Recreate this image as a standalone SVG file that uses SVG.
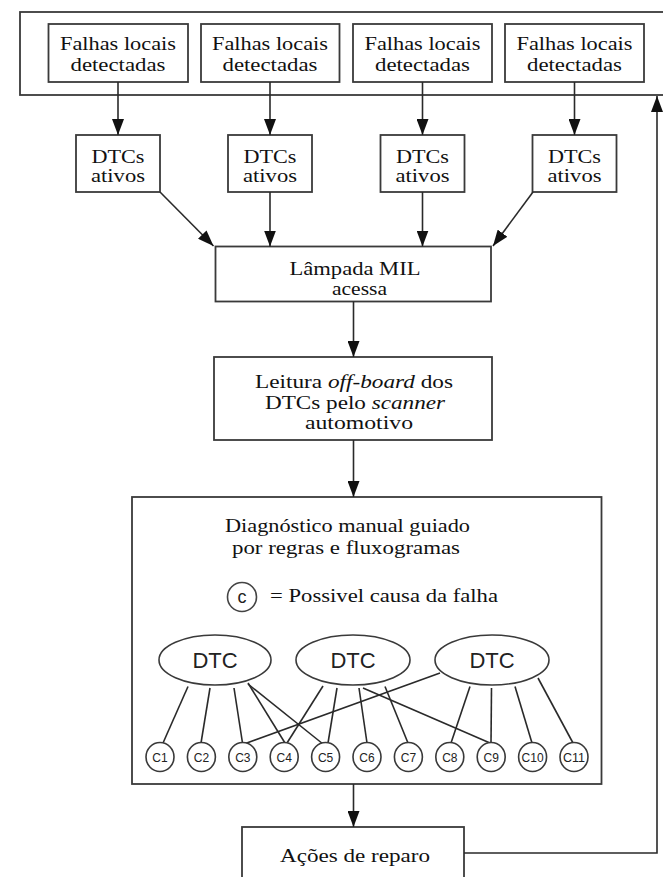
<svg xmlns="http://www.w3.org/2000/svg" width="663" height="877" viewBox="0 0 663 877">
<style>
.box{fill:#fff;stroke:#3a3a3a;stroke-width:1.8}
.t{font-family:"Liberation Serif","Times New Roman",serif;font-size:19px;fill:#111;text-anchor:middle}
.s{font-family:"Liberation Sans",Arial,sans-serif;fill:#222;text-anchor:middle}
.ln{stroke:#2a2a2a;stroke-width:1.6;fill:none}
.ar{stroke:#2a2a2a;stroke-width:1.6;fill:none;marker-end:url(#ah)}
.el{fill:#fff;stroke:#3a3a3a;stroke-width:1.6}
</style>
<defs>
<marker id="ah" markerUnits="userSpaceOnUse" markerWidth="17" markerHeight="12" refX="16" refY="6" orient="auto">
<path d="M0,0 L16,6 L0,12 z" fill="#111"/>
</marker>
</defs>
<rect width="663" height="877" fill="#fff"/>

<g id="top-container">
<rect class="box" x="20" y="12" width="650" height="83"/>
</g>

<g id="falhas1"><rect class="box" x="48.5" y="24" width="139.5" height="58"/>
<text class="t" x="118" y="50" textLength="116" lengthAdjust="spacingAndGlyphs">Falhas locais</text>
<text class="t" x="118" y="71" textLength="95" lengthAdjust="spacingAndGlyphs">detectadas</text></g>
<g id="falhas2"><rect class="box" x="201" y="24" width="138.5" height="58"/>
<text class="t" x="270" y="50" textLength="116" lengthAdjust="spacingAndGlyphs">Falhas locais</text>
<text class="t" x="270" y="71" textLength="95" lengthAdjust="spacingAndGlyphs">detectadas</text></g>
<g id="falhas3"><rect class="box" x="353" y="24" width="139" height="58"/>
<text class="t" x="422.5" y="50" textLength="116" lengthAdjust="spacingAndGlyphs">Falhas locais</text>
<text class="t" x="422.5" y="71" textLength="95" lengthAdjust="spacingAndGlyphs">detectadas</text></g>
<g id="falhas4"><rect class="box" x="505" y="24" width="139" height="58"/>
<text class="t" x="574.5" y="50" textLength="116" lengthAdjust="spacingAndGlyphs">Falhas locais</text>
<text class="t" x="574.5" y="71" textLength="95" lengthAdjust="spacingAndGlyphs">detectadas</text></g>

<g id="dtc1"><rect class="box" x="76" y="135" width="84" height="57"/>
<text class="t" x="118" y="163" textLength="53" lengthAdjust="spacingAndGlyphs">DTCs</text>
<text class="t" x="118" y="182" textLength="54" lengthAdjust="spacingAndGlyphs">ativos</text></g>
<g id="dtc2"><rect class="box" x="228" y="135" width="84" height="57"/>
<text class="t" x="270" y="163" textLength="53" lengthAdjust="spacingAndGlyphs">DTCs</text>
<text class="t" x="270" y="182" textLength="54" lengthAdjust="spacingAndGlyphs">ativos</text></g>
<g id="dtc3"><rect class="box" x="380.5" y="135" width="84" height="57"/>
<text class="t" x="422.5" y="163" textLength="53" lengthAdjust="spacingAndGlyphs">DTCs</text>
<text class="t" x="422.5" y="182" textLength="54" lengthAdjust="spacingAndGlyphs">ativos</text></g>
<g id="dtc4"><rect class="box" x="532.5" y="135" width="84" height="57"/>
<text class="t" x="574.5" y="163" textLength="53" lengthAdjust="spacingAndGlyphs">DTCs</text>
<text class="t" x="574.5" y="182" textLength="54" lengthAdjust="spacingAndGlyphs">ativos</text></g>

<g id="mil"><rect class="box" x="215.5" y="246.5" width="275.5" height="55"/>
<text class="t" x="355" y="275" font-size="18" style="font-size:18px" textLength="131" lengthAdjust="spacingAndGlyphs">Lâmpada MIL</text>
<text class="t" x="359.5" y="294.5" style="font-size:18px" textLength="55" lengthAdjust="spacingAndGlyphs">acessa</text></g>

<g id="leitura"><rect class="box" x="214" y="357" width="278" height="83"/>
<text class="t" x="354" y="387.5" textLength="198" lengthAdjust="spacingAndGlyphs">Leitura <tspan font-style="italic">off-board</tspan> dos</text>
<text class="t" x="355" y="408.5" textLength="180" lengthAdjust="spacingAndGlyphs">DTCs pelo <tspan font-style="italic">scanner</tspan></text>
<text class="t" x="359" y="428.5" textLength="108" lengthAdjust="spacingAndGlyphs">automotivo</text></g>

<g id="diagnostico"><rect class="box" x="132" y="497" width="469.5" height="287"/>
<text class="t" x="347.5" y="531.5" textLength="245" lengthAdjust="spacingAndGlyphs">Diagnóstico manual guiado</text>
<text class="t" x="346" y="554" textLength="228" lengthAdjust="spacingAndGlyphs">por regras e fluxogramas</text>
<g id="legend">
<circle cx="242" cy="597" r="14.5" fill="#fff" stroke="#444" stroke-width="1.6"/>
<text class="s" x="242" y="603" font-size="18">c</text>
<text class="t" x="270" y="602" style="text-anchor:start" textLength="228" lengthAdjust="spacingAndGlyphs">= Possivel causa da falha</text>
</g>
</g>

<g id="cause-links">
<line class="ln" x1="188" y1="686.5" x2="163" y2="743"/>
<line class="ln" x1="210" y1="688" x2="201" y2="743"/>
<line class="ln" x1="234" y1="688" x2="242.5" y2="743"/>
<line class="ln" x1="248" y1="683" x2="285" y2="743"/>
<line class="ln" x1="248" y1="684" x2="323" y2="744"/>
<line class="ln" x1="323" y1="686" x2="287" y2="743"/>
<line class="ln" x1="337" y1="688" x2="328" y2="743"/>
<line class="ln" x1="359" y1="688" x2="367" y2="743"/>
<line class="ln" x1="385" y1="686.5" x2="408" y2="743"/>
<line class="ln" x1="363" y1="688" x2="490" y2="743"/>
<line class="ln" x1="440" y1="673" x2="244" y2="744"/>
<line class="ln" x1="470" y1="686.5" x2="451" y2="743"/>
<line class="ln" x1="491.5" y1="688" x2="491" y2="743"/>
<line class="ln" x1="515" y1="686.5" x2="532" y2="743"/>
<line class="ln" x1="538" y1="678" x2="573" y2="743"/>
</g>

<g id="dtc-ellipse-1"><ellipse class="el" cx="215" cy="660" rx="56" ry="25"/><text class="s" x="215" y="668" font-size="22">DTC</text></g>
<g id="dtc-ellipse-2"><ellipse class="el" cx="353" cy="660" rx="57" ry="25"/><text class="s" x="353" y="668" font-size="22">DTC</text></g>
<g id="dtc-ellipse-3"><ellipse class="el" cx="492" cy="660" rx="57" ry="25"/><text class="s" x="492" y="668" font-size="22">DTC</text></g>

<g id="causes" font-family="Liberation Sans, Arial, sans-serif" font-size="12" fill="#222" text-anchor="middle">
<g id="c1"><ellipse class="el" cx="160" cy="757" rx="14" ry="14.5"/><text x="160" y="762">C1</text></g>
<g id="c2"><ellipse class="el" cx="201.4" cy="757" rx="14" ry="14.5"/><text x="201.4" y="762">C2</text></g>
<g id="c3"><ellipse class="el" cx="242.8" cy="757" rx="14" ry="14.5"/><text x="242.8" y="762">C3</text></g>
<g id="c4"><ellipse class="el" cx="284.2" cy="757" rx="14" ry="14.5"/><text x="284.2" y="762">C4</text></g>
<g id="c5"><ellipse class="el" cx="325.6" cy="757" rx="14" ry="14.5"/><text x="325.6" y="762">C5</text></g>
<g id="c6"><ellipse class="el" cx="367" cy="757" rx="14" ry="14.5"/><text x="367" y="762">C6</text></g>
<g id="c7"><ellipse class="el" cx="408.4" cy="757" rx="14" ry="14.5"/><text x="408.4" y="762">C7</text></g>
<g id="c8"><ellipse class="el" cx="449.8" cy="757" rx="14" ry="14.5"/><text x="449.8" y="762">C8</text></g>
<g id="c9"><ellipse class="el" cx="491.2" cy="757" rx="14" ry="14.5"/><text x="491.2" y="762">C9</text></g>
<g id="c10"><ellipse class="el" cx="532.6" cy="757" rx="14" ry="14.5"/><text x="532.6" y="762" textLength="22" lengthAdjust="spacingAndGlyphs">C10</text></g>
<g id="c11"><ellipse class="el" cx="574" cy="757" rx="14" ry="14.5"/><text x="574" y="762" textLength="22" lengthAdjust="spacingAndGlyphs">C11</text></g>
</g>

<g id="acoes"><rect class="box" x="242" y="827" width="222" height="70"/>
<text class="t" x="355" y="862" textLength="150" lengthAdjust="spacingAndGlyphs">Ações de reparo</text></g>

<g id="connectors">
<line class="ar" x1="118" y1="82" x2="118" y2="135"/>
<line class="ar" x1="270" y1="82" x2="270" y2="135"/>
<line class="ar" x1="422.5" y1="82" x2="422.5" y2="135"/>
<line class="ar" x1="574.5" y1="82" x2="574.5" y2="135"/>
<line class="ar" x1="160" y1="192" x2="213.5" y2="246"/>
<line class="ar" x1="270" y1="192" x2="270" y2="246.5"/>
<line class="ar" x1="422.5" y1="192" x2="422.5" y2="246.5"/>
<line class="ar" x1="533" y1="192" x2="493" y2="246"/>
<line class="ar" x1="353.5" y1="301.5" x2="353.5" y2="357"/>
<line class="ar" x1="353.5" y1="440" x2="353.5" y2="497"/>
<line class="ar" x1="353.5" y1="784" x2="353.5" y2="827"/>
<polyline class="ar" points="464,853 657,853 657,96"/>
</g>
</svg>
